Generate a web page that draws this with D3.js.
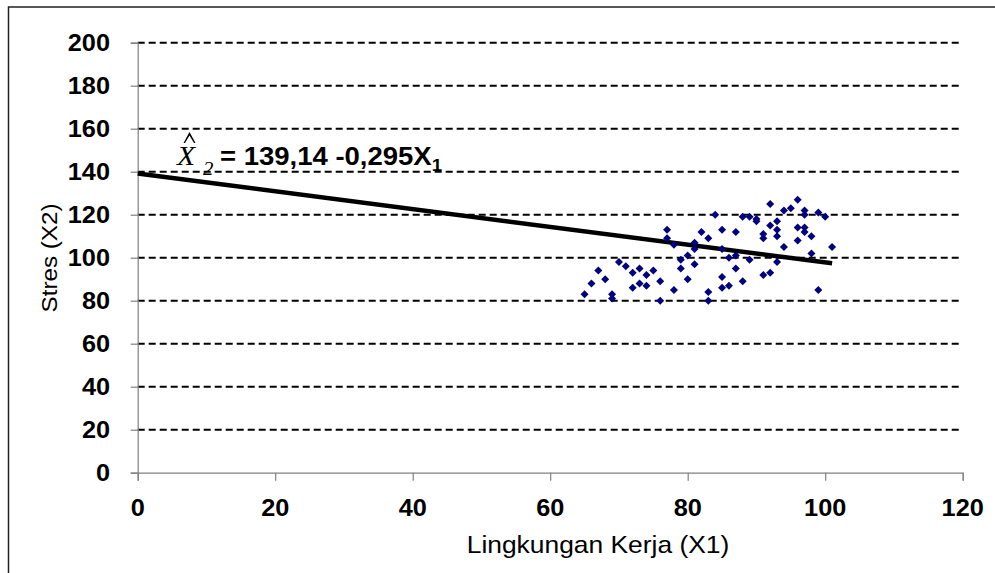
<!DOCTYPE html>
<html>
<head>
<meta charset="utf-8">
<script src="https://cdn.jsdelivr.net/npm/d3@7/dist/d3.min.js"></script>
<style>
  html, body { margin: 0; padding: 0; background: #fff; }
  svg { display: block; }
</style>
</head>
<body>
<svg id="chart" width="995" height="573"></svg>
<script>
// Data
const lingkunganKerja = [65,66,67,68,69,69,70,71,72,73,72,73,74,74,75,76,76,77,77,78,78,79,79,80,80,81,81,81,82,83,83,83,84,85,85,85,85,86,86,87,87,87,88,88,89,89,90,90,91,91,91,92,92,92,93,93,93,93,94,94,95,96,96,96,97,97,97,97,98,98,99,99,100,101];
const stres = [83,88,94,90,83,81,98,96,93,95,86,88,92,87,94,89,80,113,109,106,85,99,95,101,90,107,104,97,112,109,84,80,120,113,104,91,86,100,87,112,101,95,119,89,119,99,118,117,111,109,92,125,115,93,117,113,110,98,122,105,123,127,114,108,122,120,114,112,110,102,121,85,119,105];
const lineX = [0, 101];
const lineY = [139.14, 97.4];
const xTicks = [0, 20, 40, 60, 80, 100, 120];
const yTicks = [0, 20, 40, 60, 80, 100, 120, 140, 160, 180, 200];
const xTitle = "Lingkungan Kerja (X1)";
const yTitle = "Stres (X2)";

const svg = d3.select("#chart");
const pLeft = 137.7, pRight = 962.7, pTop = 42.7, pBottom = 472.7;
const x = d3.scaleLinear().domain([0, 120]).range([pLeft, pRight]);
const y = d3.scaleLinear().domain([0, 200]).range([pBottom, pTop]);
const SX = 1.1;

// outer border
svg.append("rect").attr("x", 8.5).attr("y", 7).attr("width", 1000).attr("height", 600)
  .attr("fill", "none").attr("stroke", "#222").attr("stroke-width", 1.5);

// gridlines
svg.append("g").selectAll("line").data(yTicks.filter(d => d > 0)).join("line")
  .attr("x1", pLeft).attr("x2", pRight)
  .attr("y1", d => y(d)).attr("y2", d => y(d))
  .attr("stroke", "#000").attr("stroke-width", 2).attr("stroke-dasharray", "7,4");

// axes
const yAxis = d3.axisLeft(y).tickValues(yTicks).tickSize(7).tickFormat("");
const xAxis = d3.axisBottom(x).tickValues(xTicks).tickSize(8).tickFormat("");
const gy = svg.append("g").attr("transform", `translate(${pLeft},0)`).call(yAxis);
const gx = svg.append("g").attr("transform", `translate(0,${pBottom})`).call(xAxis);
[gx, gy].forEach(g => {
  g.select(".domain").attr("stroke", "#808080").attr("stroke-width", 1.2);
  g.selectAll(".tick line").attr("stroke", "#808080").attr("stroke-width", 1.2);
});

function stext(px, py, str, opts) {
  const t = svg.append("text")
    .attr("transform", `translate(${px},${py}) scale(${SX},1)`)
    .attr("font-family", opts.family || "Liberation Sans, Arial, sans-serif")
    .attr("font-size", opts.size)
    .attr("font-weight", opts.weight || "normal")
    .attr("font-style", opts.style || "normal")
    .attr("text-anchor", opts.anchor || "start")
    .attr("fill", "#000")
    .text(str);
  return t;
}

// tick labels
yTicks.forEach(d => stext(110, y(d) + 8.3, d, { size: 23, weight: "bold", anchor: "end" }));
xTicks.forEach(d => stext(x(d), 516, d, { size: 23, weight: "bold", anchor: "middle" }));

// axis titles
stext(598, 553, xTitle, { size: 24, anchor: "middle" });
svg.append("text")
  .attr("transform", `translate(57,258) rotate(-90) scale(${SX},1)`)
  .attr("font-family", "Liberation Sans, Arial, sans-serif")
  .attr("font-size", 22).attr("text-anchor", "middle").text(yTitle);

// regression line
svg.append("line")
  .attr("x1", x(lineX[0])).attr("y1", y(lineY[0]))
  .attr("x2", x(lineX[1])).attr("y2", y(lineY[1]))
  .attr("stroke", "#000").attr("stroke-width", 4.5);

// points: square-ish diamonds
const rhombus = {
  draw(ctx, size) {
    const r = Math.sqrt(size) / 2;
    ctx.moveTo(0, -r); ctx.lineTo(r, 0); ctx.lineTo(0, r); ctx.lineTo(-r, 0); ctx.closePath();
  }
};
svg.append("g").selectAll("path").data(lingkunganKerja.map((v, i) => [v, stres[i]])).join("path")
  .attr("d", d3.symbol().type(rhombus).size(64))
  .attr("transform", d => `translate(${x(d[0])},${y(d[1])})`)
  .attr("fill", "#000080");

// equation
stext(177, 165, "X", { size: 27, style: "italic", family: "Liberation Serif, Times New Roman, serif" });
// circumflex accent drawn as a small chevron above the X
svg.append("path")
  .attr("d", "M183.5,143 L189.5,132 L195.5,143 L194,143 L189.5,135.5 L185,143 Z")
  .attr("fill", "#000");
stext(203, 175, "2", { size: 19, style: "italic", family: "Liberation Serif, Times New Roman, serif" });
const eq = stext(220, 165, "= 139,14 -0,295X", { size: 25, weight: "bold" });
eq.append("tspan").attr("font-size", 17).attr("dy", 6).text("1");
</script>
</body>
</html>
